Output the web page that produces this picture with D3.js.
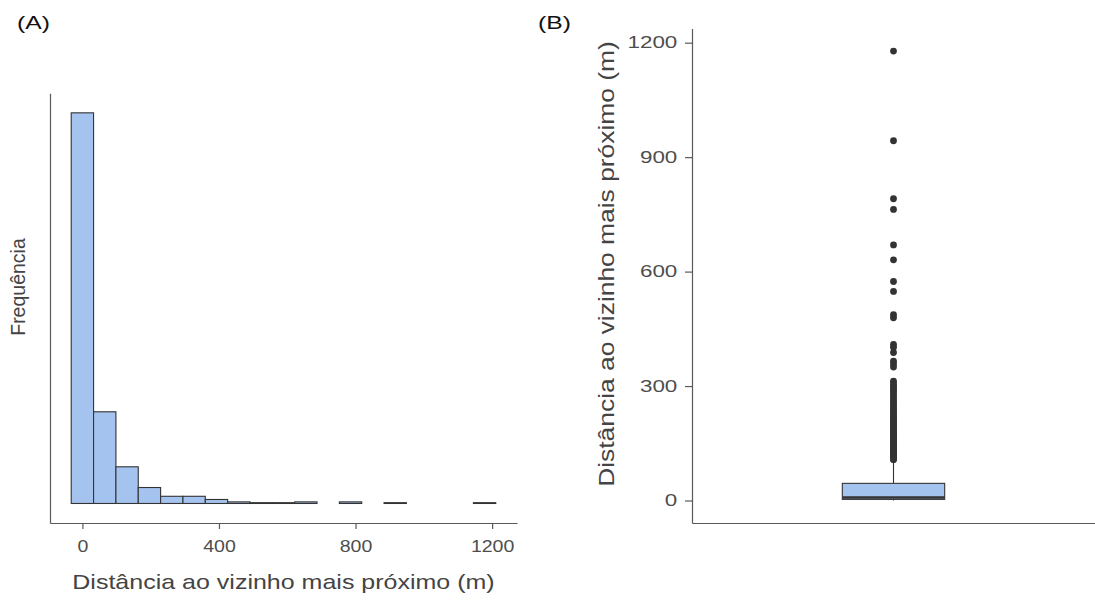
<!DOCTYPE html>
<html>
<head>
<meta charset="utf-8">
<script src="https://cdn.jsdelivr.net/npm/d3@7"></script>
<style>
  html, body { margin: 0; padding: 0; background: #fff; }
  svg { display: block; font-family: "Liberation Sans", Arial, sans-serif; }
</style>
</head>
<body>
<svg id="chart" width="1095" height="604"></svg>
<script>
// ---------- DATA ----------
// Panel A: histogram of nearest-neighbour distance (19 bins, width = max/18)
const histMax = 1178;               // maximum distance (m)
const histBins = 19;
const histCounts = [490, 115, 46, 20, 9, 9, 5, 2, 1, 1, 2, 0, 2, 0, 1, 0, 0, 0, 1];
const histTicks = [0, 400, 800, 1200];

// Panel B: boxplot summary + outliers (m)
const boxStats = { min: 0, q1: 3, median: 8, q3: 45, whiskerHigh: 106 };
const outliers = [1178, 943, 791, 763, 670, 631, 574, 548, 487, 479, 409, 402, 388, 365, 358, 350,
  313, 308, 302, 297, 291, 286, 280, 274, 268, 262, 257, 251, 246, 241, 236, 231, 227, 222, 218,
  214, 210, 206, 202, 198, 195, 191, 188, 184, 181, 178, 175, 172, 169, 166, 163, 160, 157, 154,
  151, 148, 146, 143, 140, 138, 135, 133, 130, 128, 126, 123, 121, 119, 117, 115, 113, 111, 109, 107];
const boxTicks = [0, 300, 600, 900, 1200];
const boxCategory = ["dist"];

const xTitle = "Distância ao vizinho mais próximo (m)";
const yTitleA = "Frequência";
const yTitleB = "Distância ao vizinho mais próximo (m)";

// ---------- STYLE ----------
const fillBlue = "#a5c3ef";
const darkLine = "#333333";
const axisCol = "#5a5a5a";
const tickTextCol = "#4d4d4d";
const titleCol = "#444444";

const svg = d3.select("#chart");

function stretchText(sel, k) {
  sel.attr("transform", `scale(${k},1)`);
}
function styleAxis(ax, fontSize, k) {
  ax.select(".domain").attr("stroke", axisCol).attr("stroke-width", 1.2);
  ax.selectAll(".tick line").attr("stroke", axisCol).attr("stroke-width", 1.2);
  ax.selectAll(".tick text").attr("fill", tickTextCol).attr("font-size", fontSize)
    .attr("font-family", "Liberation Sans, Arial, sans-serif").call(stretchText, k);
}

// ---------- PANEL A ----------
const A = { left: 50, right: 517, top: 93.3, bottom: 523 };
const binW = histMax / (histBins - 1);
const bins = histCounts.map((c, i) => ({ x0: (i - 0.5) * binW, x1: (i + 0.5) * binW, count: c }));
const xLo = bins[0].x0, xHi = bins[bins.length - 1].x1;
const xPad = (xHi - xLo) * 0.05;
const xA = d3.scaleLinear().domain([xLo - xPad, xHi + xPad]).range([A.left, A.right]);
const maxC = d3.max(histCounts);
const yA = d3.scaleLinear().domain([-0.05 * maxC, 1.05 * maxC]).range([A.bottom, A.top]);

const gA = svg.append("g");
gA.selectAll("rect.bar").data(bins).enter().append("rect")
  .attr("class", "bar")
  .attr("x", d => xA(d.x0))
  .attr("width", d => xA(d.x1) - xA(d.x0))
  .attr("y", d => yA(d.count))
  .attr("height", d => yA(0) - yA(d.count))
  .attr("fill", fillBlue)
  .attr("stroke", darkLine)
  .attr("stroke-width", 1.1);

const axAx = gA.append("g").attr("transform", `translate(0,${A.bottom})`)
  .call(d3.axisBottom(xA).tickValues(histTicks).tickFormat(d3.format("d")).tickSize(6).tickSizeOuter(0).tickPadding(11));
const axAy = gA.append("g").attr("transform", `translate(${A.left},0)`)
  .call(d3.axisLeft(yA).tickValues([]).tickSizeOuter(0));
styleAxis(axAx, 17, 1.15);
styleAxis(axAy, 17, 1.15);

gA.append("text")
  .attr("transform", `translate(${(A.left + A.right) / 2},589) scale(1.22,1)`)
  .attr("text-anchor", "middle").attr("font-size", 20.5).attr("fill", titleCol)
  .text(xTitle);
gA.append("text")
  .attr("transform", `translate(25,287) rotate(-90)`)
  .attr("text-anchor", "middle").attr("font-size", 19.5).attr("fill", titleCol)
  .text(yTitleA);
gA.append("text")
  .attr("transform", `translate(17,29) scale(1.3,1)`)
  .attr("font-size", 19).attr("fill", "#111").text("(A)");

// ---------- PANEL B ----------
const B = { left: 692, right: 1095, top: 28.6, bottom: 523 };
const allVals = [boxStats.min, ...outliers];
const yMin = d3.min(allVals), yMax = d3.max(allVals);
const yPad = (yMax - yMin) * 0.05;
const yB = d3.scaleLinear().domain([yMin - yPad, yMax + yPad]).range([B.bottom, B.top]);
const xB = d3.scaleBand().domain(boxCategory).range([B.left, B.right]).paddingInner(0).paddingOuter(0);
const cx = xB(boxCategory[0]) + xB.bandwidth() / 2;
const boxW = xB.bandwidth() * 0.254;

const gB = svg.append("g");
// whiskers
gB.append("line").attr("x1", cx).attr("x2", cx)
  .attr("y1", yB(boxStats.q3)).attr("y2", yB(boxStats.whiskerHigh))
  .attr("stroke", darkLine).attr("stroke-width", 1.1);
gB.append("line").attr("x1", cx).attr("x2", cx)
  .attr("y1", yB(boxStats.q1)).attr("y2", yB(boxStats.min))
  .attr("stroke", darkLine).attr("stroke-width", 1.1);
// box
gB.append("rect")
  .attr("x", cx - boxW / 2).attr("width", boxW)
  .attr("y", yB(boxStats.q3)).attr("height", yB(boxStats.q1) - yB(boxStats.q3))
  .attr("fill", fillBlue).attr("stroke", darkLine).attr("stroke-width", 1.1);
gB.append("line")
  .attr("x1", cx - boxW / 2).attr("x2", cx + boxW / 2)
  .attr("y1", yB(boxStats.median)).attr("y2", yB(boxStats.median))
  .attr("stroke", darkLine).attr("stroke-width", 2.4);
// outliers
gB.selectAll("circle.out").data(outliers).enter().append("circle")
  .attr("class", "out")
  .attr("cx", cx).attr("cy", d => yB(d)).attr("r", 3.4)
  .attr("fill", darkLine);

const axBx = gB.append("g").attr("transform", `translate(0,${B.bottom})`)
  .call(d3.axisBottom(xB).tickValues([]).tickSizeOuter(0));
const axBy = gB.append("g").attr("transform", `translate(${B.left},0)`)
  .call(d3.axisLeft(yB).tickValues(boxTicks).tickFormat(d3.format("d")).tickSize(7).tickSizeOuter(0).tickPadding(3.5));
styleAxis(axBx, 16, 1.4);
styleAxis(axBy, 16, 1.4);

gB.append("text")
  .attr("transform", `translate(614,264) rotate(-90) scale(1.2,1)`)
  .attr("text-anchor", "middle").attr("font-size", 22).attr("fill", titleCol)
  .text(yTitleB);
gB.append("text")
  .attr("transform", `translate(538,29) scale(1.3,1)`)
  .attr("font-size", 19).attr("fill", "#111").text("(B)");
</script>
</body>
</html>
